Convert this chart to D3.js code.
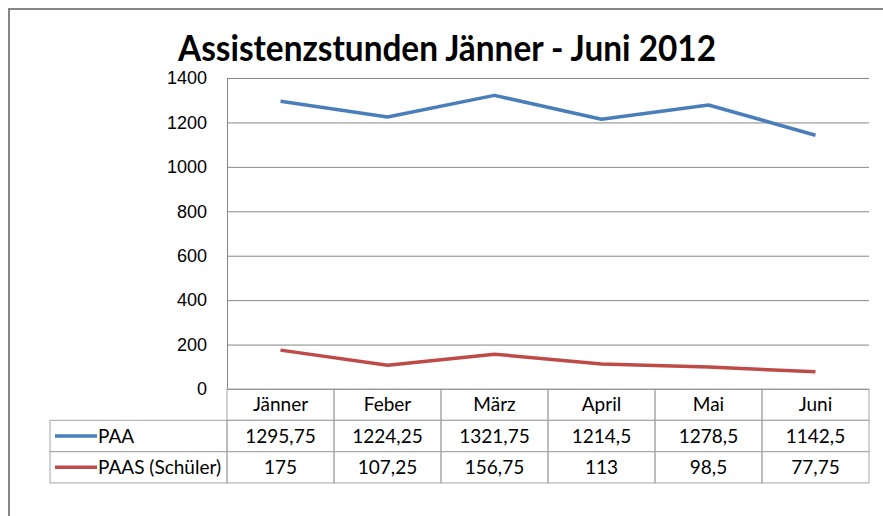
<!DOCTYPE html>
<html lang="de">
<head>
<meta charset="utf-8">
<title>Assistenzstunden</title>
<script src="https://cdn.jsdelivr.net/npm/d3@7"></script>
<style>
  body { margin: 0; background: #fff; }
</style>
</head>
<body>
<script>
// data
var months = ["Jänner", "Feber", "März", "April", "Mai", "Juni"];
var paa = [1295.75, 1224.25, 1321.75, 1214.5, 1278.5, 1142.5];
var paas = [175, 107.25, 156.75, 113, 98.5, 77.75];
var seriesNames = ["PAA", "PAAS (Schüler)"];
var seriesColors = ["#4A7EBB", "#BE4B48"];
var yTicks = [0, 200, 400, 600, 800, 1000, 1200, 1400];

var W = 883, H = 516;
var plot = {left: 227, right: 869, top: 78, bottom: 389};
var rowH = 31.3;

var svg = d3.select("body").append("svg")
  .attr("width", W).attr("height", H);

// outer frame
svg.append("rect")
  .attr("x", 9).attr("y", 9)
  .attr("width", 1000).attr("height", 1000)
  .attr("fill", "#fff")
  .attr("stroke", "#868686").attr("stroke-width", 2);

// title
svg.append("text")
  .attr("x", 178).attr("y", 61)
  .attr("textLength", 538).attr("lengthAdjust", "spacingAndGlyphs")
  .style("font-family", "Lato, 'Open Sans', sans-serif")
  .style("font-weight", "bold")
  .style("font-size", "37px")
  .attr("fill", "#000")
  .text("Assistenzstunden Jänner - Juni 2012");

var x = d3.scaleBand().domain(months).range([plot.left, plot.right]);
var y = d3.scaleLinear().domain([0, 1400]).range([plot.bottom, plot.top]);

// y axis with gridlines
var yAxis = d3.axisLeft(y).tickValues(yTicks)
  .tickFormat(d3.format("d"))
  .tickSize(-(plot.right - plot.left)).tickPadding(20);

var gy = svg.append("g")
  .attr("transform", "translate(" + plot.left + ",0)")
  .call(yAxis);
gy.select(".domain").attr("stroke", "#868686");
gy.selectAll(".tick line").attr("stroke", "#868686");
gy.selectAll(".tick text")
  .attr("fill", "#000")
  .style("font-family", "'Liberation Sans', Arial, sans-serif")
  .style("font-size", "18px");

// lines
var line = d3.line()
  .x(function(d, i) { return x(months[i]) + x.bandwidth() / 2; })
  .y(function(d) { return y(d); });

[paa, paas].forEach(function(s, i) {
  svg.append("path")
    .datum(s)
    .attr("d", line)
    .attr("fill", "none")
    .attr("stroke", seriesColors[i])
    .attr("stroke-width", 3.5)
    .attr("stroke-linejoin", "round");
});

// data table below
var tbl = svg.append("g");
var gridCol = "#a6a6a6";
var tableFont = "Lato, 'Open Sans', sans-serif";
var tableSize = "19px";
var legendLeft = 50;

// header row
months.forEach(function(m) {
  tbl.append("rect")
    .attr("x", x(m)).attr("y", plot.bottom)
    .attr("width", x.bandwidth()).attr("height", rowH)
    .attr("fill", "none").attr("stroke", gridCol);
  tbl.append("text")
    .attr("x", x(m) + x.bandwidth() / 2).attr("y", plot.bottom + rowH / 2)
    .attr("dy", "0.35em").attr("text-anchor", "middle")
    .style("font-family", tableFont).style("font-size", tableSize)
    .text(m);
});

function fmt(v) { return String(v).replace(".", ","); }

[paa, paas].forEach(function(s, i) {
  var top = plot.bottom + rowH * (i + 1);
  tbl.append("rect")
    .attr("x", legendLeft).attr("y", top)
    .attr("width", plot.left - legendLeft).attr("height", rowH)
    .attr("fill", "none").attr("stroke", gridCol);
  tbl.append("line")
    .attr("x1", legendLeft + 5).attr("x2", legendLeft + 47)
    .attr("y1", top + rowH / 2).attr("y2", top + rowH / 2)
    .attr("stroke", seriesColors[i]).attr("stroke-width", 3.5);
  tbl.append("text")
    .attr("x", legendLeft + 48).attr("y", top + rowH / 2)
    .attr("dy", "0.35em")
    .style("font-family", tableFont).style("font-size", tableSize)
    .text(seriesNames[i]);
  s.forEach(function(v, j) {
    tbl.append("rect")
      .attr("x", x(months[j])).attr("y", top)
      .attr("width", x.bandwidth()).attr("height", rowH)
      .attr("fill", "none").attr("stroke", gridCol);
    tbl.append("text")
      .attr("x", x(months[j]) + x.bandwidth() / 2).attr("y", top + rowH / 2)
      .attr("dy", "0.35em").attr("text-anchor", "middle")
      .style("font-family", tableFont).style("font-size", tableSize)
      .text(fmt(v));
  });
});
</script>
</body>
</html>
